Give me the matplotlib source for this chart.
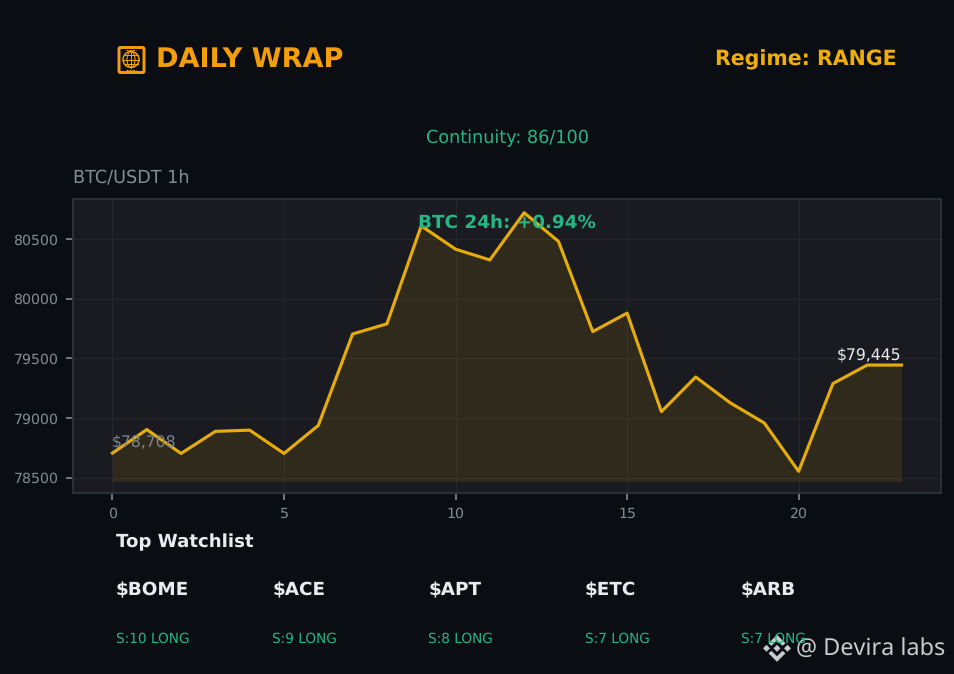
import matplotlib
matplotlib.use('Agg')
import matplotlib.pyplot as plt
from matplotlib.patches import Circle, Ellipse, FancyBboxPatch, Polygon

BG_COLOR = '#0A0E12'
AXES_COLOR = '#1A1B20'
SPINE_COLOR = '#2B3036'
GRID_COLOR = '#24262B'
TICK_COLOR = '#868C94'
ORANGE = '#F59E0B'
GOLD = '#E6AC0C'
GREEN = '#26B585'
WHITE = '#E9ECEF'

plt.rcParams['text.hinting'] = 'no_hinting'

hours = list(range(24))
prices = [78708, 78905, 78705, 78890, 78900, 78705, 78940, 79705, 79790, 80610, 80415, 80325,
          80720, 80480, 79725, 79880, 79055, 79345, 79130, 78960, 78555, 79290, 79445, 79445]
fill_floor = 78470
xtick_vals = [0, 5, 10, 15, 20]
ytick_vals = [78500, 79000, 79500, 80000, 80500]
symbols = ['$BOME', '$ACE', '$APT', '$ETC', '$ARB']
scores = ['S:10 LONG', 'S:9 LONG', 'S:8 LONG', 'S:7 LONG', 'S:7 LONG']

W, H = 954, 674
DPI = 150


def fx(px):
    return px / W


def fy(py):
    return 1 - py / H


fig = plt.figure(figsize=(W / DPI, H / DPI), dpi=DPI, facecolor=BG_COLOR)

# chart
ax = fig.add_axes([fx(73), fy(493), (941 - 73) / W, (493 - 199) / H], facecolor=AXES_COLOR)
ax.fill_between(hours, prices, fill_floor, color=GOLD, alpha=0.11, lw=0)
ax.plot(hours, prices, color=GOLD, lw=1.5)
ax.set_xlim(-1.15, 24.15)
ax.set_ylim(78374, 80835)
ax.set_xticks(xtick_vals)
ax.set_yticks(ytick_vals)
ax.grid(True, color=GRID_COLOR, lw=0.5)
ax.set_axisbelow(True)
ax.tick_params(colors=TICK_COLOR, labelsize=6.8)
for spine in ax.spines.values():
    spine.set_color(SPINE_COLOR)
    spine.set_linewidth(1)

ax.text(-0.02, prices[0] + 24, '$78,708', color='#7C8691', fontsize=7.5, va='bottom', ha='left')
ax.text(23, prices[-1] + 18, '$79,445', color=WHITE, fontsize=7.5, va='bottom', ha='right')
ax.text(0.5, 0.92, 'BTC 24h: +0.94%', transform=ax.transAxes, color=GREEN, fontsize=8.85,
        weight='bold', ha='center', va='center')

# header
fig.text(fx(156), fy(59.5), 'DAILY WRAP', color=ORANGE, fontsize=13, weight='bold', va='center')
fig.text(fx(897), fy(59.5), 'Regime: RANGE', color='#EFAE0C', fontsize=9.85, weight='bold',
         va='center', ha='right')
fig.text(fx(507), fy(138), 'Continuity: 86/100', color=GREEN, fontsize=8.45, va='center', ha='center')
fig.text(fx(73), fy(178), 'BTC/USDT 1h', color=TICK_COLOR, fontsize=8.45, va='center')

# overlay axes in pixel coordinates for logo and watermark
ov = fig.add_axes([0, 0, 1, 1], facecolor='none')
ov.set_xlim(0, W)
ov.set_ylim(H, 0)
ov.axis('off')

ov.add_patch(FancyBboxPatch((119, 47.5), 25, 25, boxstyle='round,pad=0,rounding_size=1.5',
                            fc='none', ec=ORANGE, lw=1.4))
ov.add_patch(Circle((131, 59.5), 8, fc='none', ec=ORANGE, lw=0.7))
ov.add_patch(Ellipse((131, 59.5), 8, 16, fc='none', ec=ORANGE, lw=0.5))
ov.plot([123, 139], [59.5, 59.5], color=ORANGE, lw=0.5)
ov.plot([124.5, 137.5], [55, 55], color=ORANGE, lw=0.5)
ov.plot([124.5, 137.5], [64, 64], color=ORANGE, lw=0.5)
ov.plot([131, 131], [51.5, 67.5], color=ORANGE, lw=0.5)
ov.plot([126, 136], [49.8, 49.8], color=ORANGE, lw=0.5, ls=(0, (2, 1)))
ov.plot([126, 136], [70, 70], color=ORANGE, lw=0.5, ls=(0, (2, 1)))

# watchlist
fig.text(fx(116), fy(542.7), 'Top Watchlist', color=WHITE, fontsize=8.7, weight='bold', va='center')
for i, (sym, score) in enumerate(zip(symbols, scores)):
    x = 116 + i * 156.2
    fig.text(fx(x), fy(590.5), sym, color=WHITE, fontsize=8.85, weight='bold', va='center')
    fig.text(fx(x), fy(638.5), score, color=GREEN, fontsize=6.55, va='center')

# watermark
mark = '#C9CBCE'
cx, cy = 777, 648.3
for dx in (-10.5, 0, 10.5):
    r = 3.5
    ov.add_patch(Polygon([(cx + dx - r, cy), (cx + dx, cy - r),
                          (cx + dx + r, cy), (cx + dx, cy + r)], fc=mark, ec='none', zorder=5))
for s in (-1, 1):
    ov.add_patch(Polygon([(cx, cy + s * 13.5), (cx + 8.5, cy + s * 5), (cx + 5.5, cy + s * 2.5),
                          (cx, cy + s * 8), (cx - 5.5, cy + s * 2.5), (cx - 8.5, cy + s * 5)],
                         fc=mark, ec='none', zorder=5))
ov.text(796, 649, '@ Devira labs', color=mark, fontsize=11.25, family='Noto Sans', va='center', zorder=5)

fig.savefig('out.png', dpi=DPI, facecolor=BG_COLOR)
plt.close(fig)
